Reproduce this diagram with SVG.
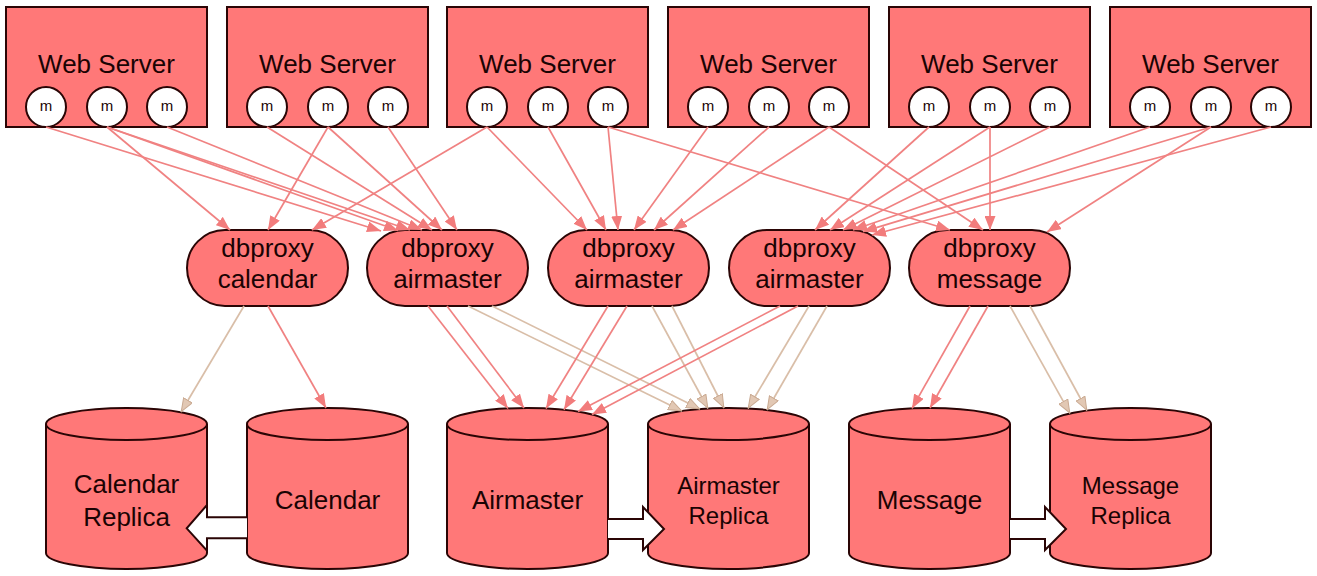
<svg xmlns="http://www.w3.org/2000/svg" width="1317" height="576" viewBox="0 0 1317 576">
<defs>
<style>
.box{fill:#ff7878;stroke:#2a0505;stroke-width:2}
.m{fill:#ffffff;stroke:#2a0505;stroke-width:2}
.t{font-family:"Liberation Sans",Arial,sans-serif;fill:#1a0303;text-anchor:middle}
.big{font-size:26px}
.mid{font-size:24px}
.sm{font-size:15px}
.e{stroke:#f08282;stroke-width:1.7;fill:none;marker-end:url(#ah)}
.r{stroke:#d9bea8;stroke-width:1.7;fill:none;marker-end:url(#ahr)}
.blk{fill:#ffffff;stroke:#2a0505;stroke-width:2;stroke-linejoin:miter}
</style>
<marker id="ah" viewBox="0 0 14 11" refX="14" refY="5.5" markerWidth="14" markerHeight="11" markerUnits="userSpaceOnUse" orient="auto"><path d="M0,0 L14,5.5 L0,11 Z" fill="#f27c7c"/></marker>
<marker id="ahr" viewBox="0 0 14 11" refX="14" refY="5.5" markerWidth="14" markerHeight="11" markerUnits="userSpaceOnUse" orient="auto"><path d="M0.5,0.5 L13.5,5.5 L0.5,10.5 Z" fill="#e2c8b4" stroke="#c9a991" stroke-width="1"/></marker>
</defs>
<rect width="1317" height="576" fill="#ffffff"/>

<g id="ws0"><rect class="box" x="6" y="7" width="201" height="120"/><text class="t big" x="106.5" y="73">Web Server</text>
<circle class="m" cx="46" cy="107" r="20"/><circle class="m" cx="107" cy="107" r="20"/><circle class="m" cx="167" cy="107" r="20"/>
<text class="t sm" x="46" y="111">m</text><text class="t sm" x="107" y="111">m</text><text class="t sm" x="167" y="111">m</text></g>
<g id="ws1"><rect class="box" x="227" y="7" width="201" height="120"/><text class="t big" x="327.5" y="73">Web Server</text>
<circle class="m" cx="267" cy="107" r="20"/><circle class="m" cx="328" cy="107" r="20"/><circle class="m" cx="388" cy="107" r="20"/>
<text class="t sm" x="267" y="111">m</text><text class="t sm" x="328" y="111">m</text><text class="t sm" x="388" y="111">m</text></g>
<g id="ws2"><rect class="box" x="447" y="7" width="201" height="120"/><text class="t big" x="547.5" y="73">Web Server</text>
<circle class="m" cx="487" cy="107" r="20"/><circle class="m" cx="548" cy="107" r="20"/><circle class="m" cx="608" cy="107" r="20"/>
<text class="t sm" x="487" y="111">m</text><text class="t sm" x="548" y="111">m</text><text class="t sm" x="608" y="111">m</text></g>
<g id="ws3"><rect class="box" x="668" y="7" width="201" height="120"/><text class="t big" x="768.5" y="73">Web Server</text>
<circle class="m" cx="708" cy="107" r="20"/><circle class="m" cx="769" cy="107" r="20"/><circle class="m" cx="829" cy="107" r="20"/>
<text class="t sm" x="708" y="111">m</text><text class="t sm" x="769" y="111">m</text><text class="t sm" x="829" y="111">m</text></g>
<g id="ws4"><rect class="box" x="889" y="7" width="201" height="120"/><text class="t big" x="989.5" y="73">Web Server</text>
<circle class="m" cx="929" cy="107" r="20"/><circle class="m" cx="990" cy="107" r="20"/><circle class="m" cx="1050" cy="107" r="20"/>
<text class="t sm" x="929" y="111">m</text><text class="t sm" x="990" y="111">m</text><text class="t sm" x="1050" y="111">m</text></g>
<g id="ws5"><rect class="box" x="1110" y="7" width="201" height="120"/><text class="t big" x="1210.5" y="73">Web Server</text>
<circle class="m" cx="1150" cy="107" r="20"/><circle class="m" cx="1211" cy="107" r="20"/><circle class="m" cx="1271" cy="107" r="20"/>
<text class="t sm" x="1150" y="111">m</text><text class="t sm" x="1211" y="111">m</text><text class="t sm" x="1271" y="111">m</text></g>

<g id="px0"><rect class="box" x="187" y="230" width="161" height="76" rx="38" ry="38"/><text class="t big" x="267.5" y="257">dbproxy</text><text class="t big" x="267.5" y="288">calendar</text></g>
<g id="px1"><rect class="box" x="367" y="230" width="161" height="76" rx="38" ry="38"/><text class="t big" x="447.5" y="257">dbproxy</text><text class="t big" x="447.5" y="288">airmaster</text></g>
<g id="px2"><rect class="box" x="548" y="230" width="161" height="76" rx="38" ry="38"/><text class="t big" x="628.5" y="257">dbproxy</text><text class="t big" x="628.5" y="288">airmaster</text></g>
<g id="px3"><rect class="box" x="729" y="230" width="161" height="76" rx="38" ry="38"/><text class="t big" x="809.5" y="257">dbproxy</text><text class="t big" x="809.5" y="288">airmaster</text></g>
<g id="px4"><rect class="box" x="909" y="230" width="161" height="76" rx="38" ry="38"/><text class="t big" x="989.5" y="257">dbproxy</text><text class="t big" x="989.5" y="288">message</text></g>

<g id="db-calendar-replica"><path class="box" d="M46,424 L46,553 A80.5,16 0 0 0 207,553 L207,424 A80.5,16 0 0 0 46,424 Z"/><path class="box" d="M46,424 A80.5,16 0 0 0 207,424" fill="none"/><text class="t big" x="126.5" y="493">Calendar</text><text class="t big" x="126.5" y="526">Replica</text></g>
<g id="db-calendar"><path class="box" d="M247,424 L247,553 A80.5,16 0 0 0 408,553 L408,424 A80.5,16 0 0 0 247,424 Z"/><path class="box" d="M247,424 A80.5,16 0 0 0 408,424" fill="none"/><text class="t big" x="327.5" y="509">Calendar</text></g>
<g id="db-airmaster"><path class="box" d="M447,424 L447,553 A80.5,16 0 0 0 608,553 L608,424 A80.5,16 0 0 0 447,424 Z"/><path class="box" d="M447,424 A80.5,16 0 0 0 608,424" fill="none"/><text class="t big" x="527.5" y="509">Airmaster</text></g>
<g id="db-airmaster-replica"><path class="box" d="M648,424 L648,553 A80.5,16 0 0 0 809,553 L809,424 A80.5,16 0 0 0 648,424 Z"/><path class="box" d="M648,424 A80.5,16 0 0 0 809,424" fill="none"/><text class="t mid" x="728.5" y="494">Airmaster</text><text class="t mid" x="728.5" y="524">Replica</text></g>
<g id="db-message"><path class="box" d="M849,424 L849,553 A80.5,16 0 0 0 1010,553 L1010,424 A80.5,16 0 0 0 849,424 Z"/><path class="box" d="M849,424 A80.5,16 0 0 0 1010,424" fill="none"/><text class="t big" x="929.5" y="509">Message</text></g>
<g id="db-message-replica"><path class="box" d="M1050,424 L1050,553 A80.5,16 0 0 0 1211,553 L1211,424 A80.5,16 0 0 0 1050,424 Z"/><path class="box" d="M1050,424 A80.5,16 0 0 0 1211,424" fill="none"/><text class="t mid" x="1130.5" y="494">Message</text><text class="t mid" x="1130.5" y="524">Replica</text></g>

<g id="connectors">
<line class="e" x1="46" y1="127" x2="381" y2="231"/>
<line class="e" x1="107" y1="127" x2="398" y2="230.5"/>
<line class="e" x1="107" y1="127" x2="410" y2="230"/>
<line class="e" x1="167" y1="127" x2="422" y2="230"/>
<line class="e" x1="267" y1="127" x2="432" y2="230"/>
<line class="e" x1="328" y1="127" x2="442" y2="230"/>
<line class="e" x1="388" y1="127" x2="457" y2="230"/>
<line class="e" x1="107" y1="127" x2="230" y2="230"/>
<line class="e" x1="328" y1="127" x2="268" y2="230"/>
<line class="e" x1="487" y1="127" x2="312" y2="230"/>
<line class="e" x1="487" y1="127" x2="587" y2="230"/>
<line class="e" x1="548" y1="127" x2="606" y2="230"/>
<line class="e" x1="608" y1="127" x2="618" y2="230"/>
<line class="e" x1="708" y1="127" x2="634" y2="230"/>
<line class="e" x1="769" y1="127" x2="654" y2="230"/>
<line class="e" x1="829" y1="127" x2="673" y2="230"/>
<line class="e" x1="608" y1="127" x2="950" y2="230"/>
<line class="e" x1="829" y1="127" x2="983" y2="230"/>
<line class="e" x1="990" y1="127" x2="990" y2="230"/>
<line class="e" x1="1211" y1="127" x2="1047" y2="232"/>
<line class="e" x1="929" y1="127" x2="815" y2="230"/>
<line class="e" x1="990" y1="127" x2="830" y2="230"/>
<line class="e" x1="1050" y1="127" x2="843" y2="230"/>
<line class="e" x1="1150" y1="127" x2="853" y2="230"/>
<line class="e" x1="1211" y1="127" x2="863" y2="231.6"/>
<line class="e" x1="1271" y1="127" x2="872" y2="235"/>

<line class="r" x1="244" y1="306" x2="181" y2="412"/>
<line class="e" x1="268" y1="306" x2="326" y2="408"/>
<line class="e" x1="428" y1="306" x2="508" y2="408.5"/>
<line class="e" x1="447" y1="306" x2="524" y2="408"/>
<line class="r" x1="468" y1="306" x2="682" y2="411"/>
<line class="r" x1="492" y1="306" x2="700" y2="409"/>
<line class="e" x1="608" y1="306" x2="546" y2="408.5"/>
<line class="e" x1="627" y1="306" x2="564" y2="409.7"/>
<line class="r" x1="652" y1="306" x2="708" y2="408.5"/>
<line class="r" x1="672" y1="306" x2="724" y2="408"/>
<line class="e" x1="780" y1="306" x2="578" y2="411.5"/>
<line class="e" x1="798" y1="306" x2="592" y2="414.4"/>
<line class="r" x1="809" y1="306" x2="748" y2="408.5"/>
<line class="r" x1="827" y1="306" x2="767" y2="410"/>
<line class="e" x1="970" y1="306" x2="912" y2="408.4"/>
<line class="e" x1="988" y1="306" x2="930" y2="408"/>
<line class="r" x1="1010" y1="306" x2="1070" y2="413.4"/>
<line class="r" x1="1030" y1="306" x2="1087" y2="410.5"/>

<path class="blk" d="M247,517.3 L207,517.3 L207,505 L186.7,528.3 L207,550.7 L207,538.3 L247,538.3"/>
<path class="blk" d="M608,519 L643,519 L643,507 L664,529 L643,550 L643,539 L608,539"/>
<path class="blk" d="M1010,519 L1045,519 L1045,507 L1066,529 L1045,550 L1045,539 L1010,539"/>
</g>
</svg>
